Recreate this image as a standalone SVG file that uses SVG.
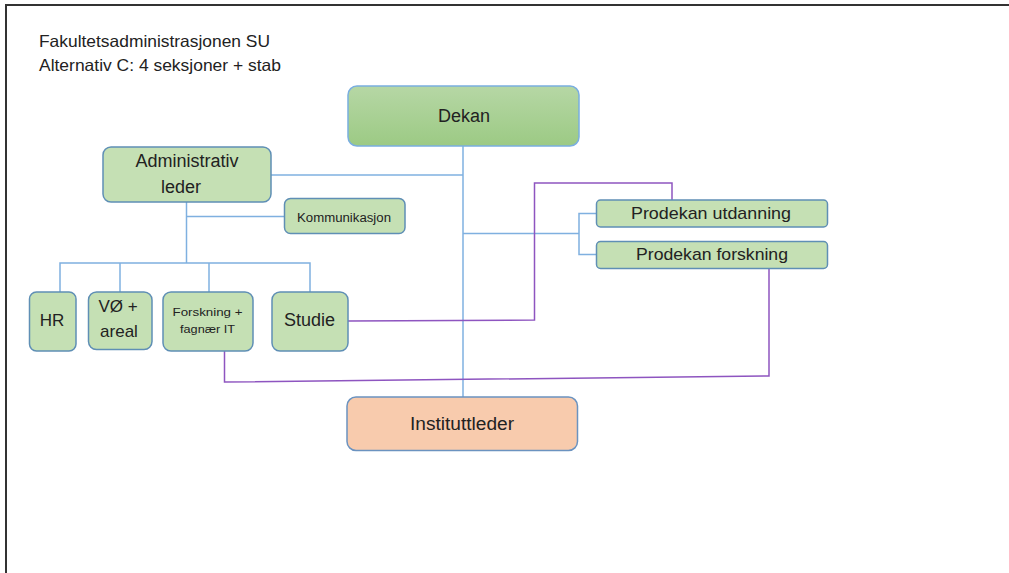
<svg xmlns="http://www.w3.org/2000/svg" width="1009" height="573" viewBox="0 0 1009 573">
<style>
text{font-family:"Liberation Sans",Arial,sans-serif;fill:#222;}
.node{fill:#c5e0b4;stroke:#5f8fb5;stroke-width:1.5;}
.blue{fill:none;stroke:#7fb0e0;stroke-width:1.5;}
.purple{fill:none;stroke:#8e55c0;stroke-width:1.5;}
.c{text-anchor:middle;}
</style>
<defs>
<linearGradient id="gDekan" x1="0" y1="0" x2="0" y2="1">
<stop offset="0" stop-color="#b6d7a5"/>
<stop offset="1" stop-color="#9cca84"/>
</linearGradient>
</defs>
<rect x="0" y="0" width="1009" height="573" fill="#ffffff"/>
<g id="frame">
<path d="M6,573 V5 H1009" fill="none" stroke="#333" stroke-width="2"/>
</g>
<g id="title">
<text x="39" y="47" font-size="16.5" textLength="231" lengthAdjust="spacingAndGlyphs">Fakultetsadministrasjonen SU</text>
<text x="39" y="71" font-size="16.5" textLength="242" lengthAdjust="spacingAndGlyphs">Alternativ C: 4 seksjoner + stab</text>
</g>
<g id="connectors">
<path class="blue" d="M463,146 V397"/>
<path class="blue" d="M271,175 H463"/>
<path class="blue" d="M463,233.5 H579"/>
<path class="blue" d="M596,213.5 H579 V254.5 H596"/>
<path class="blue" d="M186.5,202 V263"/>
<path class="blue" d="M186.5,216.5 H285"/>
<path class="blue" d="M60,292 V263 H310 V292"/>
<path class="blue" d="M120,263 V292"/>
<path class="blue" d="M209,263 V292"/>
<path class="purple" d="M348,321 L534.5,320 V183 H672 V200"/>
<path class="purple" d="M224.5,351 V382 L769,376 V268"/>
</g>
<g id="dekan">
<rect x="348" y="86" width="231" height="60" rx="9" fill="url(#gDekan)" stroke="#7aaee0" stroke-width="1.5"/>
<text x="464" y="122" font-size="18" class="c">Dekan</text>
</g>
<g id="admin">
<rect class="node" x="103" y="147" width="168" height="55" rx="8"/>
<text x="187" y="167" font-size="18" class="c">Administrativ</text>
<text x="181" y="193" font-size="18" class="c">leder</text>
</g>
<g id="kommunikasjon">
<rect class="node" x="284.5" y="198.5" width="120.5" height="35" rx="6"/>
<text x="344" y="222" font-size="12" class="c" textLength="94" lengthAdjust="spacingAndGlyphs">Kommunikasjon</text>
</g>
<g id="hr">
<rect class="node" x="29.5" y="292" width="46.5" height="59" rx="7"/>
<text x="52" y="326" font-size="17" class="c">HR</text>
</g>
<g id="vo">
<rect class="node" x="88.5" y="292" width="63.5" height="57.5" rx="8"/>
<text x="118" y="312" font-size="17" class="c">VØ +</text>
<text x="119" y="337" font-size="17" class="c">areal</text>
</g>
<g id="forskning">
<rect class="node" x="163" y="292" width="90" height="59" rx="8"/>
<text x="207.5" y="316" font-size="11" class="c" textLength="70" lengthAdjust="spacingAndGlyphs">Forskning +</text>
<text x="207.5" y="333" font-size="11" class="c" textLength="55" lengthAdjust="spacingAndGlyphs">fagnær IT</text>
</g>
<g id="studie">
<rect class="node" x="272" y="292" width="76" height="59" rx="8"/>
<text x="309.5" y="326" font-size="18" class="c">Studie</text>
</g>
<g id="prodekan-utdanning">
<rect class="node" x="596.5" y="200" width="231" height="27" rx="4"/>
<text x="711" y="218.5" font-size="17" class="c" textLength="160" lengthAdjust="spacingAndGlyphs">Prodekan utdanning</text>
</g>
<g id="prodekan-forskning">
<rect class="node" x="596.5" y="241.5" width="231" height="27" rx="4"/>
<text x="712" y="259.5" font-size="17" class="c" textLength="152" lengthAdjust="spacingAndGlyphs">Prodekan forskning</text>
</g>
<g id="instituttleder">
<rect x="347" y="397" width="230.5" height="53.5" rx="9" fill="#f8cbad" stroke="#6b93c0" stroke-width="1.5"/>
<text x="462" y="429.5" font-size="18" class="c" textLength="104" lengthAdjust="spacingAndGlyphs">Instituttleder</text>
</g>
</svg>
